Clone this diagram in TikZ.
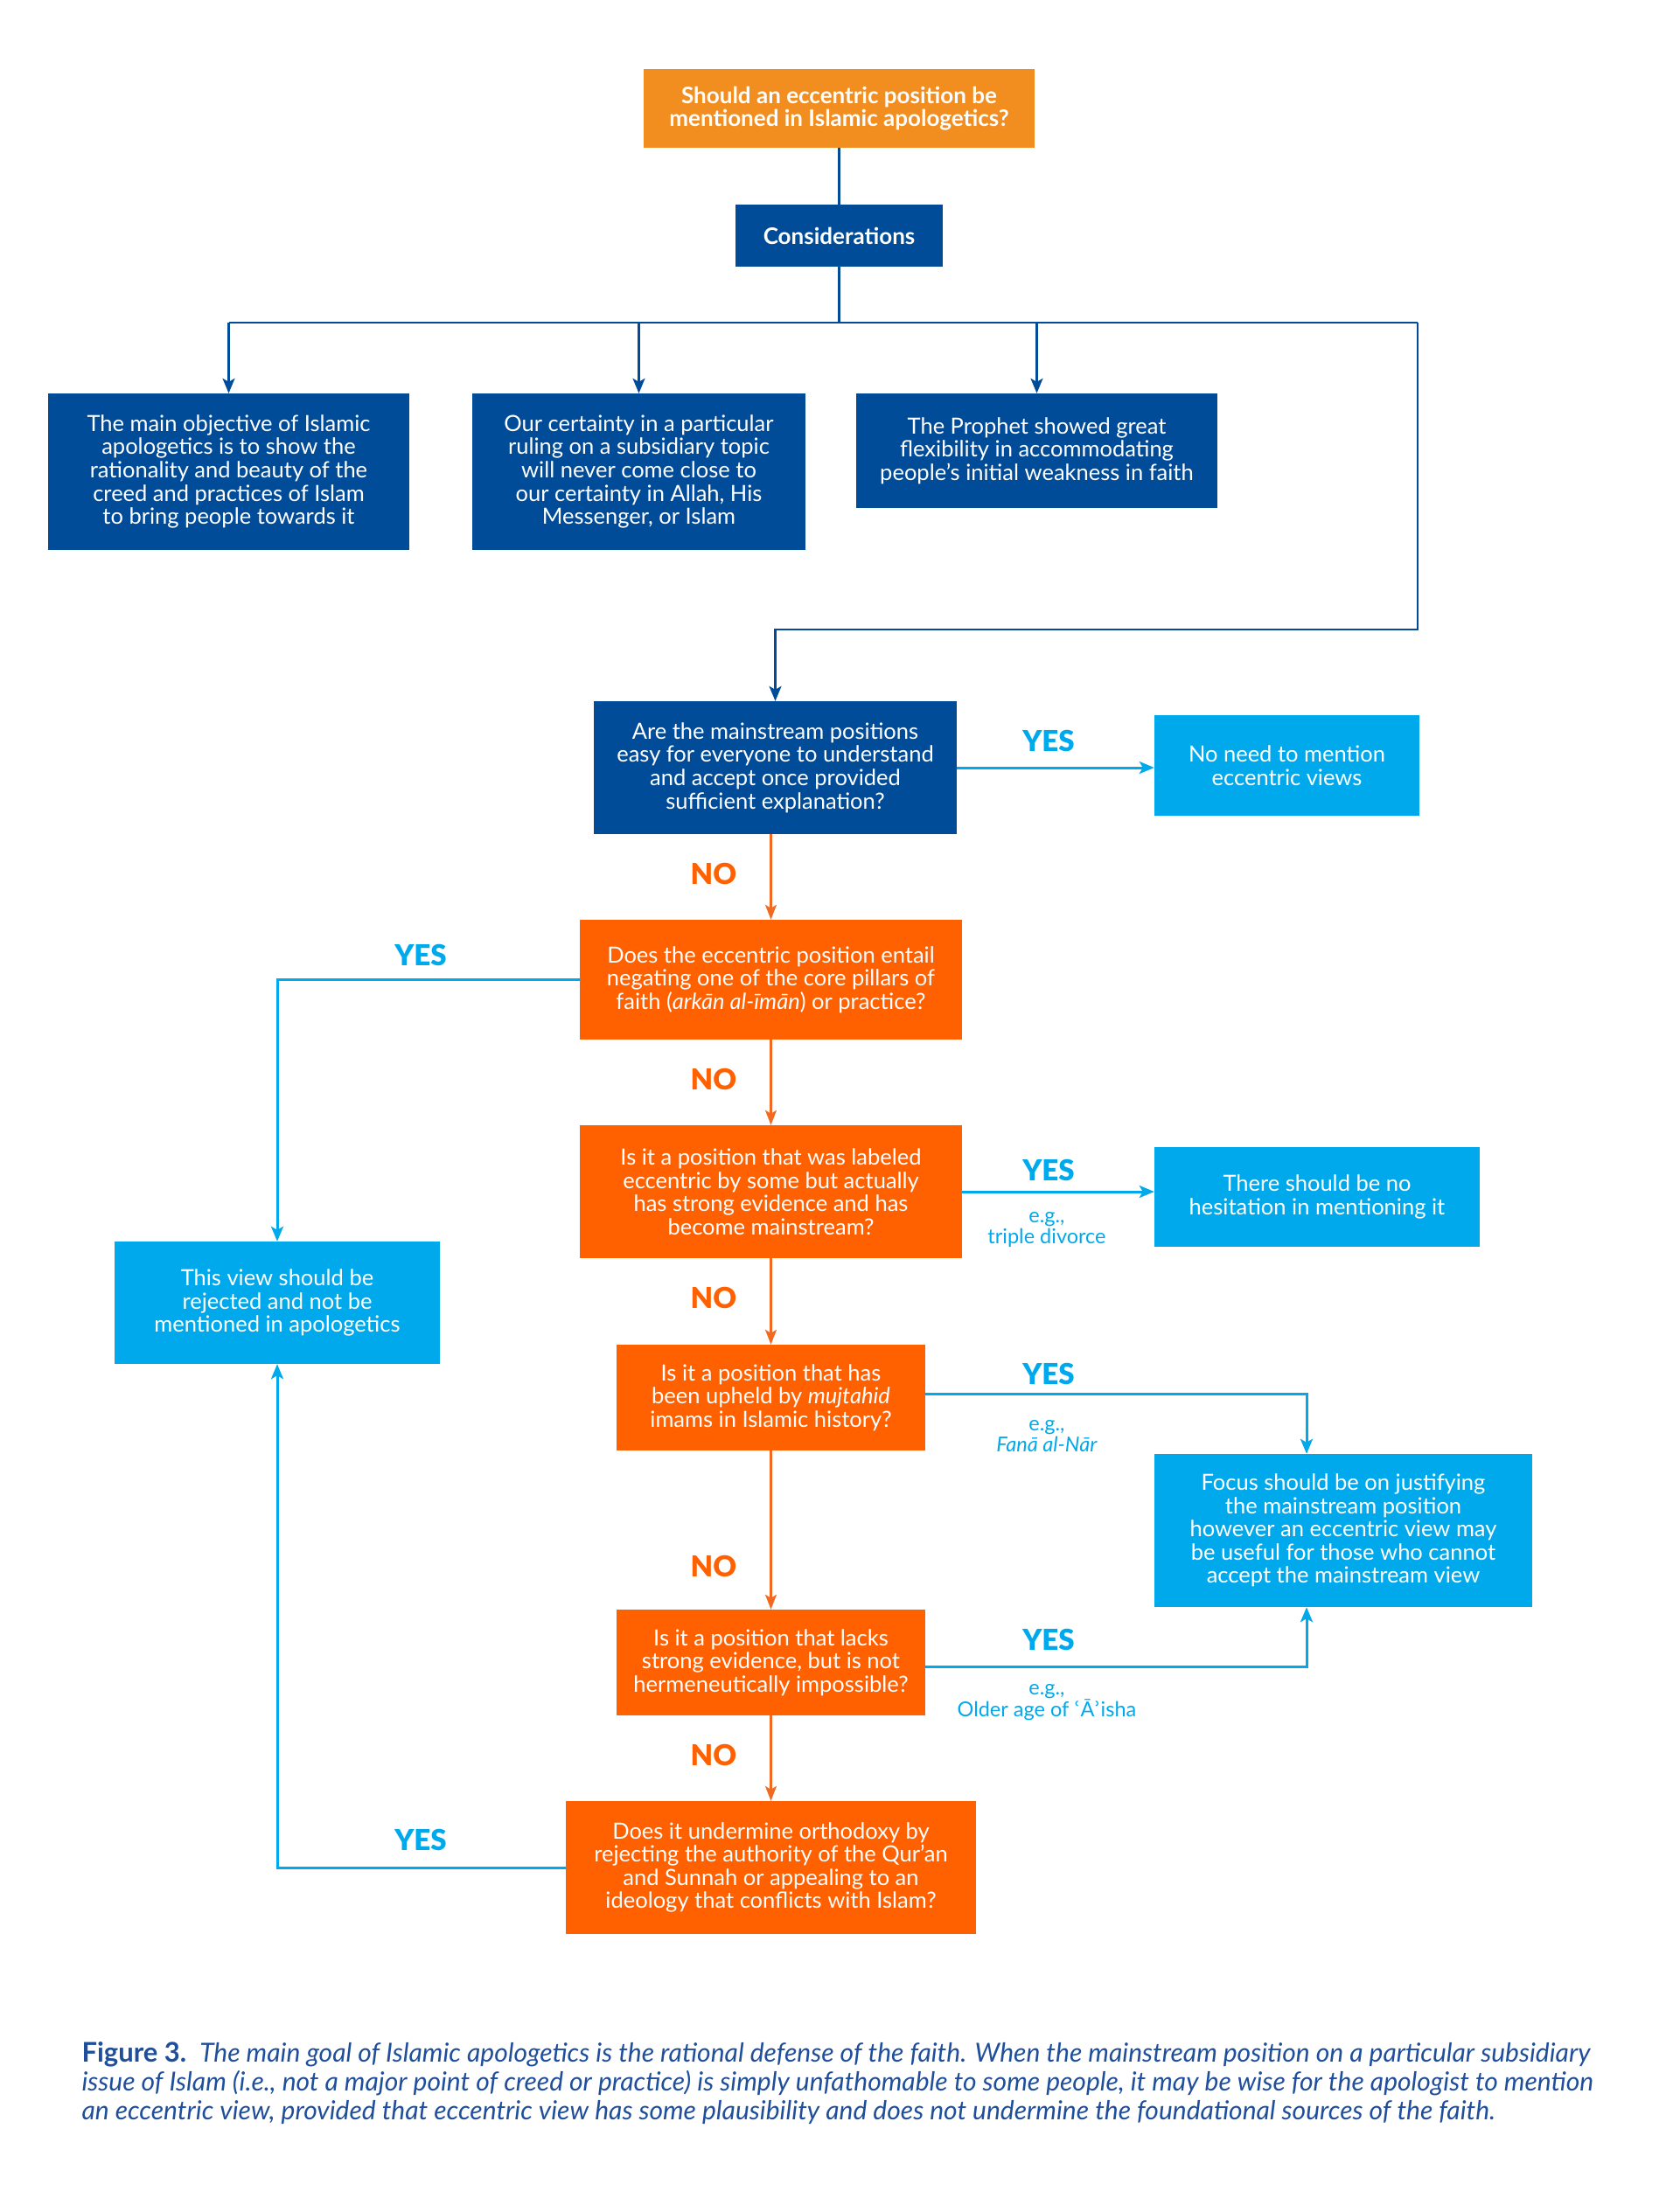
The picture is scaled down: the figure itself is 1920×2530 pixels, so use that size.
\documentclass[tikz,border=0pt]{standalone}
\usepackage{fontspec}
\setmainfont{Lato}
\newfontfamily\dejavu{DejaVu Sans}
\newfontface\latoblack{Lato Black}
\usetikzlibrary{arrows.meta,calc}
\definecolor{topor}{HTML}{F28D1F}
\definecolor{dblue}{HTML}{004C99}
\definecolor{qor}{HTML}{FF6000}
\definecolor{lblue}{HTML}{00A9EC}
\definecolor{oline}{HTML}{F26A22}
\definecolor{capblue}{HTML}{1F4E9B}
\tikzset{
  box/.style={rectangle, inner sep=0pt, align=center, text=white, font=\fontsize{25.5}{26.6}\selectfont},
  dbox/.style={box, fill=dblue},
  obox/.style={box, fill=qor},
  lbox/.style={box, fill=lblue},
  dline/.style={draw=dblue, line width=2.2pt},
  darr/.style={dline, -{Stealth[length=17pt,width=14pt,inset=4pt]}},
  lline/.style={draw=lblue, line width=3pt},
  larr/.style={lline, -{Stealth[length=17pt,width=14pt,inset=4pt]}},
  orline/.style={draw=oline, line width=2.4pt},
  oarr/.style={orline, -{Stealth[length=17pt,width=13pt,inset=4pt]}},
  yeslbl/.style={font=\fontsize{33}{33}\latoblack, text=lblue},
  nolbl/.style={font=\fontsize{33}{33}\latoblack, text=qor},
  eglbl/.style={font=\fontsize{23.5}{24}\selectfont, text=lblue, align=center},
}
\begin{document}
\begin{tikzpicture}[x=1pt,y=-1pt]
\useasboundingbox (0,0) rectangle (1920,2530);

% nodes
\node[box, fill=topor, minimum width=447pt, minimum height=90pt, font=\fontsize{26}{26.5}\selectfont\bfseries] (top) at (959.5,124) {Should an eccentric position be\\mentioned in Islamic apologetics?};
\node[dbox, minimum width=237pt, minimum height=71pt, font=\fontsize{26}{26.5}\selectfont\bfseries] (cons) at (959.5,269.5) {Considerations};

\node[dbox, minimum width=413pt, minimum height=179pt] (A) at (261.5,539.5) {The main objective of Islamic\\apologetics is to show the\\rationality and beauty of the\\creed and practices of Islam\\to bring people towards it};
\node[dbox, minimum width=381pt, minimum height=179pt] (B) at (730.5,539.5) {Our certainty in a particular\\ruling on a subsidiary topic\\will never come close to\\our certainty in Allah, His\\Messenger, or Islam};
\node[dbox, minimum width=413pt, minimum height=131pt] (C) at (1185.5,515.5) {The Prophet showed great\\flexibility in accommodating\\people’s initial weakness in faith};

\node[dbox, minimum width=415pt, minimum height=152pt] (q1) at (886.5,878) {Are the mainstream positions\\easy for everyone to understand\\and accept once provided\\sufficient explanation?};
\node[lbox, minimum width=303pt, minimum height=115pt] (nn) at (1471.5,875.5) {No need to mention\\eccentric views};

\node[obox, minimum width=437pt, minimum height=137pt] (q2) at (881.5,1120.5) {Does the eccentric position entail\\negating one of the core pillars of\\faith (\textit{arkān al-īmān}) or practice?};
\node[obox, minimum width=437pt, minimum height=152pt] (q3) at (881.5,1363) {Is it a position that was labeled\\eccentric by some but actually\\has strong evidence and has\\become mainstream?};
\node[lbox, minimum width=372pt, minimum height=114pt] (th) at (1506,1369) {There should be no\\hesitation in mentioning it};
\node[lbox, minimum width=372pt, minimum height=140pt] (rej) at (317,1490) {This view should be\\rejected and not be\\mentioned in apologetics};
\node[obox, minimum width=353pt, minimum height=121pt] (q4) at (881.5,1598.5) {Is it a position that has\\been upheld by \textit{mujtahid}\\imams in Islamic history?};
\node[lbox, minimum width=432pt, minimum height=175pt] (focus) at (1536,1750.5) {Focus should be on justifying\\the mainstream position\\however an eccentric view may\\be useful for those who cannot\\accept the mainstream view};
\node[obox, minimum width=353pt, minimum height=121pt] (q5) at (881.5,1901.5) {Is it a position that lacks\\strong evidence, but is not\\hermeneutically impossible?};
\node[obox, minimum width=469pt, minimum height=152pt] (q6) at (881.5,2136) {Does it undermine orthodoxy by\\rejecting the authority of the Qur’an\\and Sunnah or appealing to an\\ideology that conflicts with Islam?};

% coordinates
\coordinate (busR) at (1621,369);
\coordinate (turn) at (1621,720);
\coordinate (fx) at (1494,0);
\coordinate (q4out) at ($(q4.east)+(0,-4)$);
\coordinate (q5out) at ($(q5.east)+(0,5)$);

% top connectors
\draw[dline] (top.south) -- (cons.north);
\draw[dline] (cons.south) -- (cons.south |- busR);
\draw[dline] (A.north |- busR) -- (busR);
\draw[darr] (A.north |- busR) -- (A.north);
\draw[darr] (B.north |- busR) -- (B.north);
\draw[darr] (C.north |- busR) -- (C.north);
\draw[darr] (busR) -- (turn) -| (q1.north);

% YES / NO connectors
\draw[larr] (q1.east) -- (q1.east -| nn.west);
\draw[oarr] (q2.north |- q1.south) -- (q2.north);
\draw[larr] (q2.west) -| (rej.north);
\draw[oarr] (q2.south) -- (q3.north);
\draw[larr] (q3.east) -- (q3.east -| th.west);
\draw[oarr] (q3.south) -- (q4.north);
\draw[larr] (q4out) -| (fx |- focus.north);
\draw[oarr] (q4.south) -- (q5.north);
\draw[larr] (q5out) -| (fx |- focus.south);
\draw[oarr] (q5.south) -- (q6.north);
\draw[larr] (q6.west) -| (rej.south);

% labels
\node[yeslbl] (y1) at (1199,847) {YES};
\node[nolbl] (n1) at (816,999) {NO};
\node[yeslbl] (y2) at (481,1092) {YES};
\node[nolbl] (n2) at (816,1234) {NO};
\node[yeslbl] (y3) at (1199,1338) {YES};
\node[eglbl] (e3) at (1197,1406) {e.g.,\\triple divorce};
\node[nolbl] (n3) at (816,1484) {NO};
\node[yeslbl] (y4) at (1199,1571) {YES};
\node[eglbl] (e4) at (1197,1643) {e.g.,\\\textit{Fanā al-Nār}};
\node[nolbl] (n4) at (816,1791) {NO};
\node[yeslbl] (y5) at (1199,1875) {YES};
\node[eglbl] (e5) at (1197,1947) {e.g.,\\Older age of {\dejavu ʿ}Ā{\dejavu ʾ}isha};
\node[nolbl] (n5) at (816,2007) {NO};
\node[yeslbl] (y6) at (481,2104) {YES};

% caption
\node[anchor=west, align=left, text=capblue, font=\fontsize{30}{33}\selectfont\itshape] (cap) at (90,2383) {{\upshape\bfseries\fontsize{31}{33}\selectfont Figure 3.}\enspace The main goal of Islamic apologetics is the rational defense of the faith. When the mainstream position on a particular subsidiary\\issue of Islam (i.e., not a major point of creed or practice) is simply unfathomable to some people, it may be wise for the apologist to mention\\an eccentric view, provided that eccentric view has some plausibility and does not undermine the foundational sources of the faith.};
\end{tikzpicture}
\end{document}
